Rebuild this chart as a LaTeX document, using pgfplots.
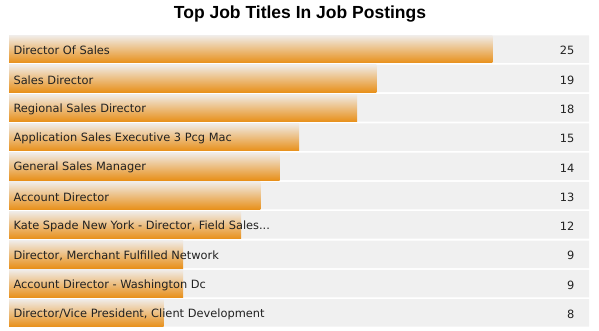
\documentclass[border=0pt]{standalone}
\usepackage{pgfplots}
\pgfplotsset{compat=1.18}
\usepackage{pgfplotstable}
\usepackage{fontspec}
\setmainfont{DejaVu Sans}
\newfontfamily\titlefont{Liberation Sans}
\definecolor{bgray}{HTML}{F0F0F0}
\definecolor{otop}{HTML}{F0ECE8}
\definecolor{obot}{HTML}{E8901A}
\definecolor{txt}{HTML}{222222}
\pgfplotstableread[col sep=semicolon]{
y;val;full;label
1;25;30;Director Of Sales
2;19;30;Sales Director
3;18;30;Regional Sales Director
4;15;30;Application Sales Executive 3 Pcg Mac
5;14;30;General Sales Manager
6;13;30;Account Director
7;12;30;{Kate Spade New York - Director, Field Sales...}
8;9;30;{Director, Merchant Fulfilled Network}
9;9;30;Account Director - Washington Dc
10;8;30;{Director/Vice President, Client Development}
}\jobdata
\begin{document}
\begin{tikzpicture}
\begin{axis}[
  name=ax,
  scale only axis,
  width=580bp, height=293bp,
  xmin=0, xmax=30, ymin=0.5, ymax=10.5,
  y dir=reverse,
  axis lines=none,
  ticks=none,
  clip=false,
  bar width=27.5bp,
]
\addplot[xbar, draw=none, fill=bgray, bar shift=0pt,
  point meta=explicit symbolic,
  nodes near coords={\pgfplotspointmeta},
  every node near coord/.append style={anchor=east, xshift=-11bp, yshift=-1.5bp, font=\fontsize{11.4bp}{13bp}\selectfont, text=txt}]
  table[x=full, y=y, meta=val] {\jobdata};
\pgfplotsinvokeforeach{1,...,10}{
\addplot[xbar, draw=none, top color=otop, bottom color=obot, bar shift=0pt,
  restrict y to domain=#1:#1]
  table[x=val, y=y] {\jobdata};
}
\addplot[only marks, mark=none,
  point meta=explicit symbolic,
  nodes near coords={\pgfplotspointmeta},
  every node near coord/.append style={anchor=west, xshift=1bp, yshift=-1.5bp, font=\fontsize{11.4bp}{13bp}\selectfont, text=txt}]
  table[x expr=0, y=y, meta=label] {\jobdata};
\end{axis}
\node[font=\titlefont\bfseries\fontsize{17.5bp}{20bp}\selectfont, anchor=center] at ([xshift=-9bp+300bp,yshift=20.5bp]ax.north west) {Top Job Titles In Job Postings};
\path ([xshift=-9bp,yshift=-3.5bp]ax.south west) rectangle ([xshift=10bp,yshift=34.5bp]ax.north east);
\end{tikzpicture}
\end{document}
